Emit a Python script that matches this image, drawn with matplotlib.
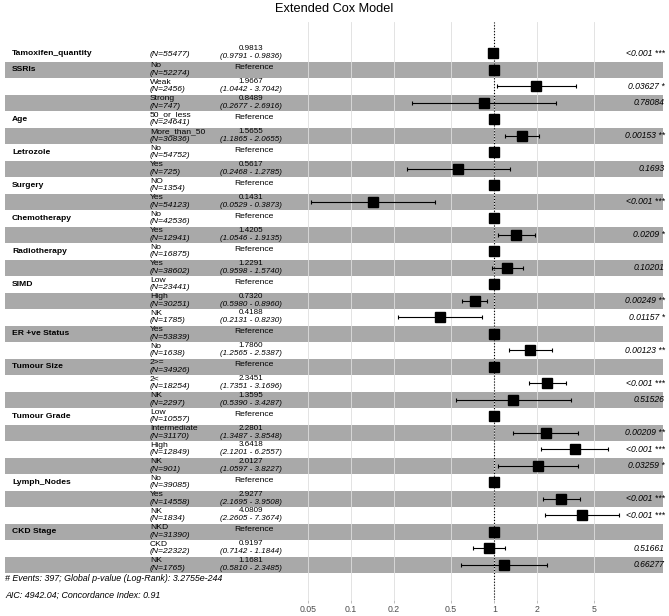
import numpy as np
import matplotlib
matplotlib.use('Agg')
import matplotlib.pyplot as plt

plt.rcParams['font.family'] = ['Liberation Sans', 'DejaVu Sans']

# rows of the forest plot, top to bottom
variables = ['Tamoxifen_quantity', 'SSRIs', '', '', 'Age', '', 'Letrozole', '',
             'Surgery', '', 'Chemotherapy', '', 'Radiotherapy', '', 'SIMD', '', '',
             'ER +ve Status', '', 'Tumour Size', '', '', 'Tumour Grade', '', '', '',
             'Lymph_Nodes', '', '', 'CKD Stage', '', '']
levels = ['', 'No', 'Weak', 'Strong', '50_or_less', 'More_than_50', 'No', 'Yes',
          'NO', 'Yes', 'No', 'Yes', 'No', 'Yes', 'Low', 'High', 'NK',
          'Yes', 'No', '2>=', '2<', 'NK', 'Low', 'Intermediate', 'High', 'NK',
          'No', 'Yes', 'NK', 'NKD', 'CKD', 'NK']
counts = [55477, 52274, 2456, 747, 24641, 30836, 54752, 725,
          1354, 54123, 42536, 12941, 16875, 38602, 23441, 30251, 1785,
          53839, 1638, 34926, 18254, 2297, 10557, 31170, 12849, 901,
          39085, 14558, 1834, 31390, 22322, 1765]
# np.nan marks the reference level
hr = [0.9813, 1, 1.9667, 0.8489, 1, 1.5655, 1, 0.5617,
      1, 0.1431, 1, 1.4205, 1, 1.2291, 1, 0.7320, 0.4188,
      1, 1.7860, 1, 2.3451, 1.3595, 1, 2.2801, 3.6418, 2.0127,
      1, 2.9277, 4.0809, 1, 0.9197, 1.1681]
ci_low = [0.9791, np.nan, 1.0442, 0.2677, np.nan, 1.1865, np.nan, 0.2468,
          np.nan, 0.0529, np.nan, 1.0546, np.nan, 0.9598, np.nan, 0.5980, 0.2131,
          np.nan, 1.2565, np.nan, 1.7351, 0.5390, np.nan, 1.3487, 2.1201, 1.0597,
          np.nan, 2.1695, 2.2605, np.nan, 0.7142, 0.5810]
ci_high = [0.9836, np.nan, 3.7042, 2.6916, np.nan, 2.0655, np.nan, 1.2785,
           np.nan, 0.3873, np.nan, 1.9135, np.nan, 1.5740, np.nan, 0.8960, 0.8230,
           np.nan, 2.5387, np.nan, 3.1696, 3.4287, np.nan, 3.8548, 6.2557, 3.8227,
           np.nan, 3.9508, 7.3674, np.nan, 1.1844, 2.3485]
pvals = ['<0.001 ***', '', '0.03627 *', '0.78084', '', '0.00153 **', '', '0.1693',
         '', '<0.001 ***', '', '0.0209 *', '', '0.10201', '', '0.00249 **', '0.01157 *',
         '', '0.00123 **', '', '<0.001 ***', '0.51526', '', '0.00209 **', '<0.001 ***', '0.03259 *',
         '', '<0.001 ***', '<0.001 ***', '', '0.51661', '0.66277']
breaks = [0.05, 0.1, 0.2, 0.5, 1, 2, 5]
footer = ['# Events: 397; Global p-value (Log-Rank): 3.2755e-244',
          'AIC: 4942.04; Concordance Index: 0.91']

W, H = 669, 616
fig = plt.figure(figsize=(W / 100, H / 100), dpi=100)

# pixel -> row units
def row(p):
    return (p - 53.5) / 16.5

def logx(p):
    return 10 ** ((p - 494.3) / 143.3)

top, bot = 22, 600
pos_y = (H - bot) / H
pos_h = (bot - top) / H

ax = fig.add_axes([0, pos_y, 1, pos_h])
ax.set_xlim(0, W)
ax.set_ylim(row(bot), row(top))
ax.axis('off')

n = len(variables)
y = np.arange(n)
fs_lev = 6.1
fs_est = 5.8
for i in range(n):
    if i % 2 == 1:
        ax.axhspan(i - 0.5, i + 0.5, xmin=5 / W, xmax=663 / W, color='#a9a9a9', lw=0, zorder=0)
    ax.text(12, i, variables[i], fontsize=6.1, fontweight='bold', va='center', ha='left')
    if levels[i]:
        ax.text(150, i - 0.27, levels[i], fontsize=fs_lev, va='center', ha='left')
        ax.text(150, i + 0.21, '(N=%d)' % counts[i], fontsize=fs_lev, style='italic', va='center', ha='left')
    else:
        ax.text(150, i + 0.05, '(N=%d)' % counts[i], fontsize=fs_lev, style='italic', va='center', ha='left')
    if np.isnan(ci_low[i]):
        ax.text(254, i - 0.15, 'Reference', fontsize=6.1, va='center', ha='center')
    else:
        ax.text(251, i - 0.28, '%.4f' % hr[i], fontsize=fs_est, va='center', ha='center')
        ax.text(251, i + 0.19, '(%.4f - %.4f)' % (ci_low[i], ci_high[i]), fontsize=fs_est,
                style='italic', va='center', ha='center')
    ax.text(665, i, pvals[i], fontsize=6.2, style='italic', va='center', ha='right')

ax.text(5, row(579), footer[0], fontsize=6.4, style='italic', va='center', ha='left')
ax.text(5, row(595), footer[1], fontsize=6.4, style='italic', va='center', ha='left')

# forest part
left, right = 296, 630
ax2 = fig.add_axes([left / W, pos_y, (right - left) / W, pos_h])
ax2.patch.set_alpha(0)
ax2.set_xscale('log')
ax2.set_xlim(logx(left), logx(right))
ax2.set_ylim(row(bot), row(top))
ax2.set_xticks(breaks)
ax2.set_xticklabels(['%g' % b for b in breaks])
ax2.minorticks_off()
ax2.set_yticks([])
for s in ax2.spines.values():
    s.set_visible(False)
ax2.grid(axis='x', color='#dedede', lw=0.6, zorder=0)
ax2.tick_params(axis='x', length=2, color='#b3b3b3', width=0.6, pad=1.5,
                labelsize=6.3, labelcolor='#4d4d4d')
ax2.axvline(1, ls=':', color='black', lw=0.8, zorder=2)

hr_a = np.array(hr)
lo = np.array(ci_low)
hi = np.array(ci_high)
m = ~np.isnan(lo)
ax2.errorbar(hr_a[m], y[m], xerr=[hr_a[m] - lo[m], hi[m] - hr_a[m]], fmt='none',
             ecolor='black', elinewidth=0.8, capsize=1.5, capthick=0.8, zorder=3)
ax2.plot(hr_a, y, 's', ms=6.5, color='black', zorder=4)

fig.text(0.5, 1 - 9.5 / H, 'Extended Cox Model', fontsize=9.2, ha='center', va='center')

fig.savefig('out.png', dpi=100)
